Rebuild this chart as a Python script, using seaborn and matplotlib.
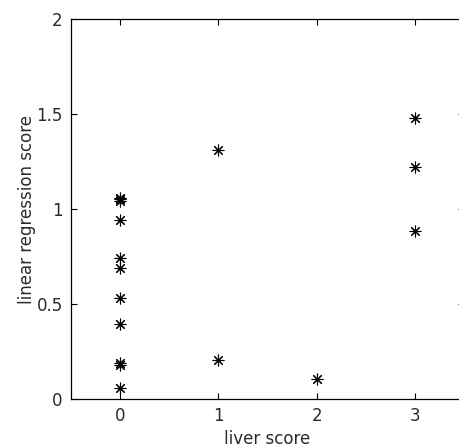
import numpy as np
import pandas as pd
import matplotlib
matplotlib.use('Agg')
import matplotlib.pyplot as plt
import seaborn as sns

# values
liver_0 = [1.06, 1.05, 1.04, 0.94, 0.74, 0.69, 0.53, 0.395, 0.19, 0.18, 0.06]
liver_1 = [1.31, 0.205]
liver_2 = [0.105]
liver_3 = [1.477, 1.22, 0.886]

x_ticks = [0, 1, 2, 3]
y_ticks = [0, 0.5, 1, 1.5, 2]

df = pd.DataFrame({
    'liver score': [0] * len(liver_0) + [1] * len(liver_1) + [2] * len(liver_2) + [3] * len(liver_3),
    'linear regression score': liver_0 + liver_1 + liver_2 + liver_3,
})

sns.set_style('ticks')
plt.rcParams['font.family'] = ['DejaVu Sans']

fig = plt.figure(figsize=(4.6, 4.48), dpi=100)
ax = fig.add_axes([71 / 460, 49 / 448, 393 / 460, 380 / 448])

sns.scatterplot(data=df, x='liver score', y='linear regression score', ax=ax,
                marker=(8, 2, 0), s=62, color='black', linewidth=0.8, edgecolor='black')

ax.set_xlim(-0.5, 3.5)
ax.set_ylim(0, 2)
ax.set_xticks(x_ticks)
ax.set_yticks(y_ticks)
ax.set_yticklabels(['0', '0.5', '1', '1.5', '2'])
ax.tick_params(axis='both', which='both', direction='in', length=4, width=0.8,
               top=True, right=True, labelsize=12, pad=6, colors='black',
               labelcolor='#2a2a2a')
for sp in ax.spines.values():
    sp.set_visible(True)
    sp.set_linewidth(0.9)
    sp.set_color('black')

ax.set_xlabel('liver score', fontsize=12, labelpad=3, color='#2a2a2a')
ax.set_ylabel('linear regression score', fontsize=12, labelpad=0, color='#2a2a2a')

fig.savefig('out.png', dpi=100)
